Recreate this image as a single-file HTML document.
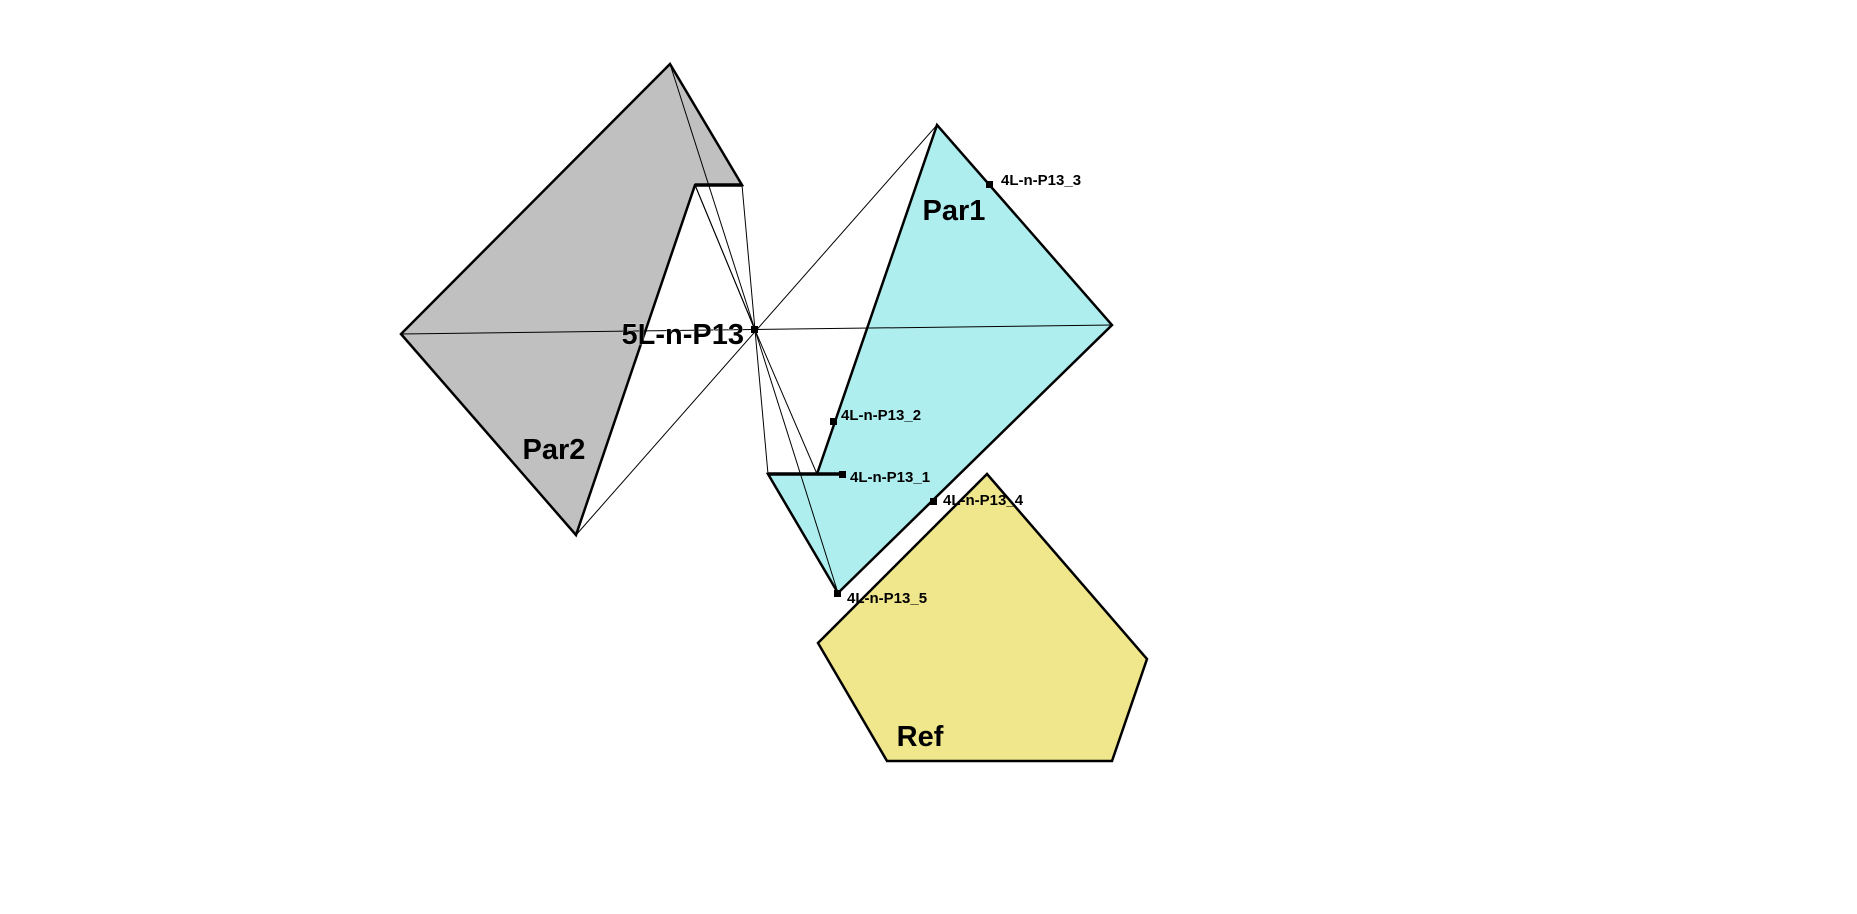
<!DOCTYPE html>
<html><head><meta charset="utf-8"><style>
html,body{margin:0;padding:0;background:#fff;width:1857px;height:914px;overflow:hidden}
svg{display:block}
text{font-family:"Liberation Sans",sans-serif;font-weight:bold;fill:#000}
</style></head><body>
<svg width="1857" height="914" viewBox="0 0 1857 914" xmlns="http://www.w3.org/2000/svg">
<!-- Par2 -->
<polygon points="670,64 742,185 695,185 576,535 401,334" fill="#c0c0c0" stroke="#000" stroke-width="2.5" stroke-linejoin="miter"/>
<!-- Par1 -->
<polygon points="937,125 1112,325 838,593 768,474 817,474" fill="#afeeee" stroke="#000" stroke-width="2.5"/>
<!-- Ref -->
<polygon points="987,474 1147,659 1112,761 887,761 818,643" fill="#f0e68c" stroke="#000" stroke-width="2.5"/>
<!-- thin lines through center -->
<g stroke="#000" stroke-width="1" fill="none">
<line x1="401" y1="334" x2="1112" y2="325"/>
<line x1="576" y1="535" x2="937" y2="125"/>
<line x1="670" y1="64" x2="755" y2="330"/>
<line x1="695" y1="185" x2="755" y2="330"/>
<line x1="742" y1="185" x2="755" y2="330"/>
<line x1="755" y1="330" x2="768" y2="474"/>
<line x1="755" y1="330" x2="817" y2="474"/>
<line x1="755" y1="330" x2="838" y2="593"/>
<line x1="695" y1="185" x2="755" y2="330"/>
</g>
<!-- bold segments -->
<line x1="695" y1="185" x2="742" y2="185" stroke="#000" stroke-width="3.5"/>
<line x1="768" y1="474" x2="842" y2="474" stroke="#000" stroke-width="3.5"/>
<!-- markers -->
<g fill="#000">
<rect x="751" y="326" width="7" height="7"/>
<rect x="986" y="181" width="7" height="7"/>
<rect x="830" y="418" width="7" height="7"/>
<rect x="839" y="471" width="7" height="7"/>
<rect x="930" y="498" width="7" height="7"/>
<rect x="834" y="590" width="7" height="7"/>
</g>
<!-- labels -->
<text x="954" y="220" font-size="29" text-anchor="middle">Par1</text>
<text x="554" y="459" font-size="29" text-anchor="middle">Par2</text>
<text x="920" y="746" font-size="29" text-anchor="middle">Ref</text>
<text x="744" y="344" font-size="29" text-anchor="end" stroke="#fff" stroke-width="0.6" paint-order="stroke">5L-n-P13</text>
<g font-size="15">
<text x="1001" y="185">4L-n-P13_3</text>
<text x="841" y="420">4L-n-P13_2</text>
<text x="850" y="482">4L-n-P13_1</text>
<text x="943" y="505">4L-n-P13_4</text>
<text x="847" y="603">4L-n-P13_5</text>
</g>
</svg>
</body></html>
